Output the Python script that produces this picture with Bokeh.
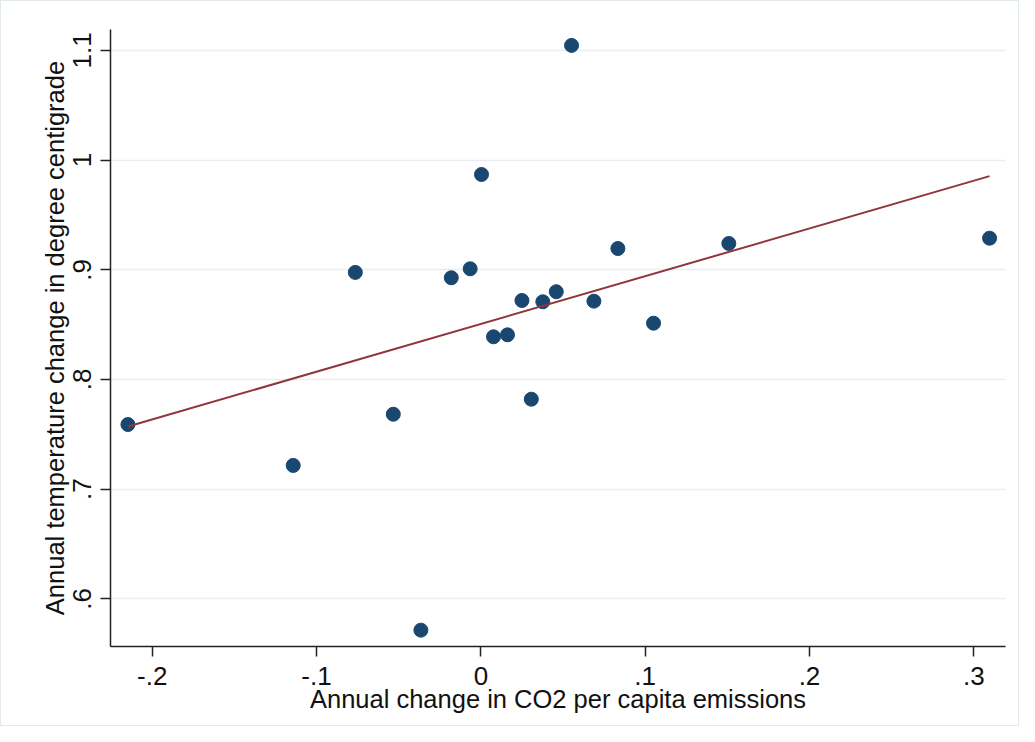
from bokeh.plotting import figure
from bokeh.models import FixedTicker, Range1d
from bokeh.embed import file_html
from bokeh.resources import INLINE

# Data
co2_change = [-0.2148, -0.1142, -0.0764, -0.0533, -0.0365, -0.0180, -0.0065, 0.0004,
              0.0077, 0.0162, 0.0250, 0.0307, 0.0377, 0.0459, 0.0552, 0.0688,
              0.0834, 0.1051, 0.1509, 0.3096]
temp_change = [0.7589, 0.7216, 0.8976, 0.7683, 0.5714, 0.8927, 0.9009, 0.9869,
               0.8389, 0.8407, 0.8720, 0.7820, 0.8708, 0.8800, 1.1046, 0.8714,
               0.9194, 0.8513, 0.9240, 0.9288]
# fitted line end points (as drawn)
fit_x = [-0.2148, 0.3096]
fit_y = [0.7571, 0.9854]

x_ticks = [-0.2, -0.1, 0.0, 0.1, 0.2, 0.3]
x_tick_labels = ["-.2", "-.1", "0", ".1", ".2", ".3"]
y_ticks = [0.6, 0.7, 0.8, 0.9, 1.0, 1.1]
y_tick_labels = [".6", ".7", ".8", ".9", "1", "1.1"]

FONT = "Liberation Sans"

p = figure(width=1019, height=726, output_backend="svg", toolbar_location=None,
           x_range=Range1d(-0.2254, 0.3193), y_range=Range1d(0.5565, 1.1191),
           min_border_left=109, min_border_right=15, min_border_top=28,
           min_border_bottom=81)
p.styles = {"border": "1px solid #e2eaee", "box-sizing": "border-box"}
p.background_fill_color = "white"
p.border_fill_color = "white"
p.outline_line_color = None

p.xgrid.grid_line_color = None
p.ygrid.grid_line_color = "#e6eef1"
p.ygrid.grid_line_width = 1.6
p.ygrid.ticker = FixedTicker(ticks=y_ticks)

p.xaxis.ticker = FixedTicker(ticks=x_ticks)
p.yaxis.ticker = FixedTicker(ticks=y_ticks)
p.xaxis.major_label_overrides = {t: l for t, l in zip(x_ticks, x_tick_labels)}
p.yaxis.major_label_overrides = {t: l for t, l in zip(y_ticks, y_tick_labels)}
p.yaxis.major_label_orientation = "vertical"

for ax in (p.xaxis, p.yaxis):
    ax.axis_line_color = "#222222"
    ax.axis_line_width = 1.5
    ax.major_tick_line_color = "#222222"
    ax.major_tick_line_width = 1.5
    ax.major_tick_out = 10
    ax.major_tick_in = 0
    ax.minor_tick_line_color = None
    ax.major_label_text_font = FONT
    ax.major_label_text_font_size = "26px"
    ax.major_label_text_color = "#111111"
    ax.axis_label_text_font = FONT
    ax.axis_label_text_font_size = "25.5px"
    ax.axis_label_text_font_style = "normal"
    ax.axis_label_text_color = "#111111"

p.xaxis.axis_label = "Annual change in CO2 per capita emissions"
p.yaxis.axis_label = "Annual temperature change in degree centigrade"
p.xaxis.major_label_standoff = 10
p.xaxis.axis_label_standoff = -3
p.yaxis.major_label_standoff = 9
p.yaxis.axis_label_standoff = 2

p.scatter(co2_change, temp_change, size=14, color="#1a476f", line_color="#1a476f")
p.line(fit_x, fit_y, line_color="#90353b", line_width=2)

open("out.html", "w").write(file_html(p, INLINE))
